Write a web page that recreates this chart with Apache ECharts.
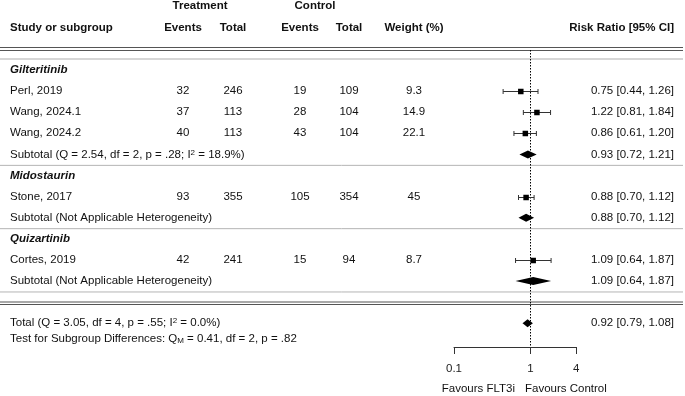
<!DOCTYPE html>
<html lang="en">

<head>
    <meta charset="UTF-8">
    <title>Forest plot</title>
    <script src="https://cdn.jsdelivr.net/npm/echarts@6/dist/echarts.min.js"></script>
    <style>
        html, body { margin: 0; padding: 0; background: #fff; }
        #forest_show { width: 685px; height: 396px; }
    </style>
</head>

<body>
    <div id="forest_show"></div>
<script>
    // studies
    const studyNames = ['Perl, 2019', 'Wang, 2024.1', 'Wang, 2024.2', 'Stone, 2017', 'Cortes, 2019'];
    const studyGroup = [0, 0, 0, 1, 2];
    const trtEvents = [32, 37, 40, 93, 42];
    const trtTotal = [246, 113, 113, 355, 241];
    const ctlEvents = [19, 28, 43, 105, 15];
    const ctlTotal = [109, 104, 104, 354, 94];
    const weights = [9.3, 14.9, 22.1, 45, 8.7];
    const rr = [0.75, 1.22, 0.86, 0.88, 1.09];
    const rrLow = [0.44, 0.81, 0.61, 0.70, 0.64];
    const rrHigh = [1.26, 1.84, 1.20, 1.12, 1.87];

    // subgroups
    const groupNames = ['Gilteritinib', 'Midostaurin', 'Quizartinib'];
    const subLabels = [
        'Subtotal (Q = 2.54, df = 2, p = .28; I{sup|2} = 18.9%)',
        'Subtotal (Not Applicable Heterogeneity)',
        'Subtotal (Not Applicable Heterogeneity)'
    ];
    const subRR = [0.93, 0.88, 1.09];
    const subLow = [0.72, 0.70, 0.64];
    const subHigh = [1.21, 1.12, 1.87];

    // overall
    const totalLabel = 'Total (Q = 3.05, df = 4, p = .55; I{sup|2} = 0.0%)';
    const testLabel = 'Test for Subgroup Differences: Q{sub|M} = 0.41, df = 2, p = .82';
    const totalRR = [0.92, 0.79, 1.08];
    const axisMin = 0.1, axisMax = 4;

    const FONT = '"Liberation Sans", Arial, sans-serif';
    const FS = 11.5;
    const ROW0_Y = 70, ROW_H = 21.1, AXIS_Y = 347;
    function rowOf(y) { return (y - ROW0_Y) / ROW_H; }
    function fmtCI(e, l, h) { return e.toFixed(2) + ' [' + l.toFixed(2) + ', ' + h.toFixed(2) + ']'; }

    // table layout: [x, row, text, align, style]
    let cells = [];
    let marks = [];   // [est, low, high, row, kind]  kind 0 = study, 1 = diamond
    let rules = [];   // [row, color, width]

    cells.push([200, rowOf(6), 'Treatment', 'center', 'b']);
    cells.push([315, rowOf(6), 'Control', 'center', 'b']);
    cells.push([10, rowOf(27.5), 'Study or subgroup', 'left', 'b']);
    cells.push([183, rowOf(27.5), 'Events', 'center', 'b']);
    cells.push([233, rowOf(27.5), 'Total', 'center', 'b']);
    cells.push([300, rowOf(27.5), 'Events', 'center', 'b']);
    cells.push([349, rowOf(27.5), 'Total', 'center', 'b']);
    cells.push([414, rowOf(27.5), 'Weight (%)', 'center', 'b']);
    cells.push([674, rowOf(27.5), 'Risk Ratio [95% CI]', 'right', 'b']);

    rules.push([rowOf(47.5), '#555', 1.2]);
    rules.push([rowOf(50.5), '#555', 1.2]);
    rules.push([rowOf(59), '#c8c8c8', 1.5]);

    let row = 0;
    groupNames.forEach(function (g, gi) {
        cells.push([10, row, g, 'left', 'bi']);
        row++;
        for (let i = 0; i < studyNames.length; i++) {
            if (studyGroup[i] !== gi) continue;
            cells.push([10, row, studyNames[i], 'left', 'n']);
            cells.push([183, row, String(trtEvents[i]), 'center', 'n']);
            cells.push([233, row, String(trtTotal[i]), 'center', 'n']);
            cells.push([300, row, String(ctlEvents[i]), 'center', 'n']);
            cells.push([349, row, String(ctlTotal[i]), 'center', 'n']);
            cells.push([414, row, String(weights[i]), 'center', 'n']);
            cells.push([674, row, fmtCI(rr[i], rrLow[i], rrHigh[i]), 'right', 'n']);
            marks.push([rr[i], rrLow[i], rrHigh[i], row, 0]);
            row++;
        }
        cells.push([10, row, subLabels[gi], 'left', 'n']);
        cells.push([674, row, fmtCI(subRR[gi], subLow[gi], subHigh[gi]), 'right', 'n']);
        marks.push([subRR[gi], subLow[gi], subHigh[gi], row, 1]);
        rules.push([row + 0.52, '#b4b4b4', 1]);
        row++;
    });

    rules.push([rowOf(302), '#555', 1.2]);
    rules.push([rowOf(304.5), '#555', 1.2]);

    const totalRow = row + 1;
    cells.push([10, totalRow, totalLabel, 'left', 'n']);
    cells.push([10, totalRow + 0.72, testLabel, 'left', 'n']);
    cells.push([674, totalRow, fmtCI(totalRR[0], totalRR[1], totalRR[2]), 'right', 'n']);
    marks.push([totalRR[0], totalRR[1], totalRR[2], totalRow, 1]);

    cells.push([515, rowOf(389), 'Favours FLT3i', 'right', 'n']);
    cells.push([525, rowOf(389), 'Favours Control', 'left', 'n']);

    const yMin = rowOf(0), yMax = rowOf(AXIS_Y);
    const richStyle = {
        sup: { fontSize: 8, lineHeight: 8, verticalAlign: 'top', fontFamily: FONT, fill: '#111' },
        sub: { fontSize: 8, lineHeight: 8, verticalAlign: 'bottom', fontFamily: FONT, fill: '#111' }
    };
    function fontOf(s) {
        if (s === 'b') return 'bold ' + FS + 'px ' + FONT;
        if (s === 'bi') return 'italic bold ' + FS + 'px ' + FONT;
        return FS + 'px ' + FONT;
    }

    let myChart = echarts.init(document.getElementById('forest_show'));
    let option = {
        animation: false,
        grid: [
            { left: 0, right: 0, top: 0, bottom: 396 - AXIS_Y },
            { left: 454, width: 122.3, top: 0, bottom: 396 - AXIS_Y }
        ],
        xAxis: [
            { gridIndex: 0, type: 'value', min: 0, max: 685, show: false },
            {
                gridIndex: 1,
                type: 'log',
                logBase: 10,
                min: axisMin,
                max: axisMax,
                position: 'bottom',
                axisLine: { onZero: false, lineStyle: { color: '#333', width: 1 } },
                axisTick: { length: 7, lineStyle: { color: '#333' } },
                axisLabel: { margin: 16, fontSize: FS, fontFamily: FONT, color: '#222', showMinLabel: true, showMaxLabel: true },
                splitLine: { show: false }
            }
        ],
        yAxis: [
            { gridIndex: 0, type: 'value', inverse: true, min: yMin, max: yMax, show: false },
            { gridIndex: 1, type: 'value', inverse: true, min: yMin, max: yMax, show: false }
        ],
        series: [
            {
                // horizontal rules
                type: 'custom',
                xAxisIndex: 0,
                yAxisIndex: 0,
                data: rules.map(function (r) { return [0, r[0]]; }),
                renderItem: function (params, api) {
                    const r = rules[params.dataIndex];
                    const p0 = api.coord([0, r[0]]);
                    const p1 = api.coord([683, r[0]]);
                    return {
                        type: 'line',
                        shape: { x1: p0[0], y1: p0[1], x2: p1[0], y2: p1[1] },
                        style: { stroke: r[1], lineWidth: r[2] }
                    };
                }
            },
            {
                // table text
                type: 'custom',
                xAxisIndex: 0,
                yAxisIndex: 0,
                data: cells.map(function (c) { return [c[0], c[1]]; }),
                renderItem: function (params, api) {
                    const c = cells[params.dataIndex];
                    const p = api.coord([c[0], c[1]]);
                    return {
                        type: 'text',
                        x: p[0],
                        y: p[1],
                        style: {
                            text: c[2],
                            font: fontOf(c[4]),
                            fill: '#111',
                            textAlign: c[3],
                            textVerticalAlign: 'middle',
                            rich: richStyle
                        }
                    };
                }
            },
            {
                // line of no effect
                type: 'custom',
                xAxisIndex: 1,
                yAxisIndex: 1,
                data: [[1, rowOf(50)]],
                renderItem: function (params, api) {
                    const p0 = api.coord([1, rowOf(50)]);
                    const p1 = api.coord([1, yMax]);
                    return {
                        type: 'line',
                        shape: { x1: Math.round(p0[0]) + 0.5, y1: p0[1], x2: Math.round(p0[0]) + 0.5, y2: p1[1] },
                        style: { stroke: '#000', lineWidth: 1, lineDash: [1.5, 1.5] }
                    };
                }
            },
            {
                // estimates
                type: 'custom',
                xAxisIndex: 1,
                yAxisIndex: 1,
                data: marks.map(function (m) { return [m[0], m[3]]; }),
                renderItem: function (params, api) {
                    const m = marks[params.dataIndex];
                    const c = api.coord([m[0], m[3]]);
                    const lo = api.coord([m[1], m[3]]);
                    const hi = api.coord([m[2], m[3]]);
                    if (m[4] === 1) {
                        return {
                            type: 'polygon',
                            shape: { points: [[lo[0], c[1]], [c[0], c[1] - 4], [hi[0], c[1]], [c[0], c[1] + 4]] },
                            style: { fill: '#000' }
                        };
                    }
                    const y = Math.round(c[1]) + 0.5;
                    const s = 5.5;
                    return {
                        type: 'group',
                        children: [
                            { type: 'line', shape: { x1: lo[0], y1: y, x2: hi[0], y2: y }, style: { stroke: '#333', lineWidth: 1 } },
                            { type: 'line', shape: { x1: lo[0], y1: y - 2.5, x2: lo[0], y2: y + 2.5 }, style: { stroke: '#333', lineWidth: 1 } },
                            { type: 'line', shape: { x1: hi[0], y1: y - 2.5, x2: hi[0], y2: y + 2.5 }, style: { stroke: '#333', lineWidth: 1 } },
                            { type: 'rect', shape: { x: c[0] - s / 2, y: y - s / 2, width: s, height: s }, style: { fill: '#000' } }
                        ]
                    };
                }
            }
        ]
    };
    myChart.setOption(option);
</script>
</body>

</html>
